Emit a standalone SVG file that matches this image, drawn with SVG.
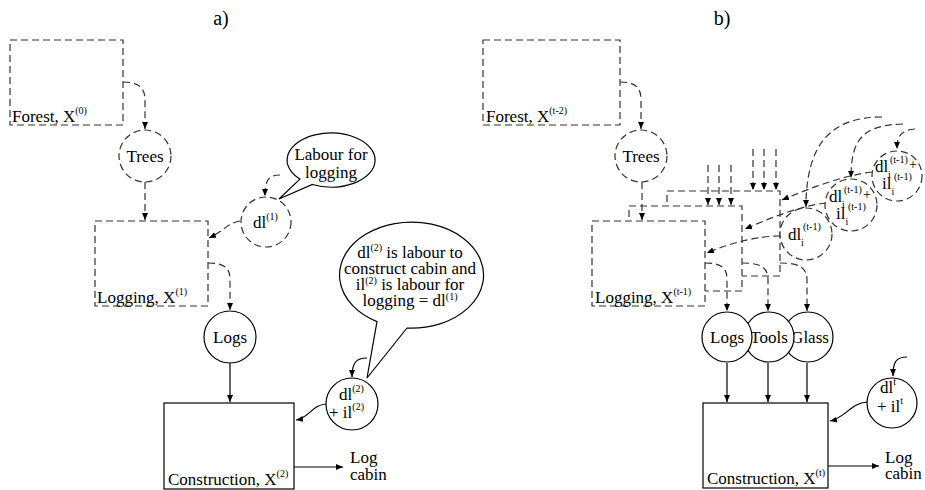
<svg xmlns="http://www.w3.org/2000/svg" width="925" height="490" viewBox="0 0 925 490">
<defs>
<marker id="ah" markerWidth="8" markerHeight="7" refX="7" refY="3" orient="auto" markerUnits="userSpaceOnUse">
<path d="M0,0 L7,3 L0,6 Z" fill="#000"/>
</marker>
<style>
.d{fill:#fff;stroke:#333;stroke-width:1.2;stroke-dasharray:7 4}
.s{fill:#fff;stroke:#000;stroke-width:1.2}
.cd{fill:none;stroke:#333;stroke-width:1.2;stroke-dasharray:7 4;marker-end:url(#ah)}
.cs{fill:none;stroke:#000;stroke-width:1.2;marker-end:url(#ah)}
text{font-family:"Liberation Serif",serif;font-size:17px;fill:#000}
.m{text-anchor:middle}
.t{font-size:20px}
.sp{font-size:10px}
</style>
</defs>
<rect width="925" height="490" fill="#fff"/>
<text class="t m" x="221" y="25">a)</text>
<text class="t m" x="722" y="25">b)</text>

<g id="forest-a">
<rect class="d" x="10" y="40" width="113" height="85"/>
<text x="12" y="122">Forest, X<tspan class="sp" dy="-8">(0)</tspan></text>
</g>
<g id="trees-a">
<circle class="d" cx="145" cy="156" r="26"/>
<text class="m" x="145" y="162">Trees</text>
</g>
<g id="logging-a">
<rect class="d" x="95" y="221" width="113" height="85"/>
<text x="97" y="303">Logging, X<tspan class="sp" dy="-8">(1)</tspan></text>
</g>
<g id="dl1">
<circle class="d" cx="266" cy="222" r="25"/>
<text x="253" y="228">dl<tspan class="sp" dy="-8">(1)</tspan></text>
</g>
<g id="bubble-labour">
<path d="M299.9,179.1 L279,199 L312.4,184.5 A44 27 0 1 0 299.9,179.1 Z" fill="#fff" stroke="#000" stroke-width="1.2"/>
<text class="m" x="331" y="160">Labour for</text>
<text class="m" x="331" y="178">logging</text>
</g>
<g id="logs-a">
<circle class="s" cx="230" cy="337" r="26"/>
<text class="m" x="230" y="343">Logs</text>
</g>
<g id="bubble-dl2">
<path d="M377,321.6 L367,378 L407,328 A72 53 0 1 0 377,321.6 Z" fill="#fff" stroke="#000" stroke-width="1.2"/>
<text class="m" x="410" y="258">dl<tspan class="sp" dy="-7">(2)</tspan><tspan dy="7"> is labour to</tspan></text>
<text class="m" x="410" y="274">construct cabin and</text>
<text class="m" x="410" y="290">il<tspan class="sp" dy="-6">(2)</tspan><tspan dy="6"> is labour for</tspan></text>
<text class="m" x="410" y="306">logging = dl<tspan class="sp" dy="-6">(1)</tspan></text>
</g>
<g id="dl2">
<circle class="s" cx="352" cy="404" r="26"/>
<text x="339" y="400">dl<tspan class="sp" dy="-8">(2)</tspan></text>
<text x="329" y="418">+ il<tspan class="sp" dy="-8">(2)</tspan></text>
</g>
<g id="construction-a">
<rect class="s" x="164" y="403" width="130" height="86"/>
<text x="168" y="485">Construction, X<tspan class="sp" dy="-8">(2)</tspan></text>
</g>
<g id="logcabin-a">
<text x="350" y="463">Log</text>
<text x="350" y="480">cabin</text>
</g>

<g id="forest-b">
<rect class="d" x="483" y="40" width="137" height="85"/>
<text x="486" y="122">Forest, X<tspan class="sp" dy="-8">(t-2)</tspan></text>
</g>
<g id="trees-b">
<circle class="d" cx="641" cy="156" r="26"/>
<text class="m" x="641" y="162">Trees</text>
</g>
<g id="box3-b">
<rect class="d" x="667" y="191" width="113" height="85"/>
</g>
<g id="box2-b">
<rect class="d" x="629" y="206" width="113" height="85"/>
</g>
<g id="logging-b">
<rect class="d" x="592" y="221" width="113" height="85"/>
<text x="595" y="303">Logging, X<tspan class="sp" dy="-8">(t-1)</tspan></text>
</g>
<g id="glass-b">
<circle class="s" cx="808" cy="337" r="25"/>
<text class="m" x="810" y="343">Glass</text>
</g>
<g id="tools-b">
<circle class="s" cx="769" cy="337" r="25"/>
<text class="m" x="769" y="343">Tools</text>
</g>
<g id="logs-b">
<circle class="s" cx="727" cy="337" r="25"/>
<text class="m" x="727" y="343">Logs</text>
</g>
<g id="dli-1">
<circle class="d" cx="806" cy="234" r="26"/>
<text x="788" y="240">dl<tspan class="sp" x="801" y="246">i</tspan><tspan class="sp" x="803" y="230">(t-1)</tspan></text>
</g>
<g id="dli-2">
<circle class="d" cx="851" cy="205" r="26"/>
<text x="829" y="202">dl<tspan class="sp" x="842" y="208">i</tspan><tspan class="sp" x="844" y="193">(t-1)</tspan><tspan x="863" y="199" font-size="14">+</tspan></text>
<text x="836" y="219">il<tspan class="sp" x="845.5" y="225">i</tspan><tspan class="sp" x="848" y="210">(t-1)</tspan></text>
</g>
<g id="dli-3">
<circle class="d" cx="897" cy="176" r="25"/>
<text x="875" y="172">dl<tspan class="sp" x="888" y="178">i</tspan><tspan class="sp" x="890" y="163">(t-1)</tspan><tspan x="909" y="169" font-size="14">+</tspan></text>
<text x="882" y="189">il<tspan class="sp" x="891.5" y="195">i</tspan><tspan class="sp" x="894" y="180">(t-1)</tspan></text>
</g>
<g id="dlt">
<circle class="s" cx="892" cy="403" r="25"/>
<text x="880" y="393">dl<tspan class="sp" dy="-8">t</tspan></text>
<text x="877" y="412">+ il<tspan class="sp" dy="-8">t</tspan></text>
</g>
<g id="construction-b">
<rect class="s" x="703" y="403" width="125" height="85"/>
<text x="707" y="484">Construction, X<tspan class="sp" dy="-8">(t)</tspan></text>
</g>
<g id="logcabin-b">
<text x="885" y="463">Log</text>
<text x="885" y="479">cabin</text>
</g>

<g id="connectors">
<path class="cd" d="M123,82 C139,82 145,88 145,100 L145,129"/>
<path class="cd" d="M145,182 L145,220"/>
<path class="cd" d="M240,221 C228,223 222,232 209,238"/>
<path class="cd" d="M280,175 C268,175 265,181 265,196"/>
<path class="cd" d="M208,263 C225,263 230,268 230,280 L230,310"/>
<path class="cs" d="M230,363 L230,402"/>
<path class="cs" d="M326,404 C312,405 309,418 296,420"/>
<path class="cs" d="M367,358 C356,358 352,363 352,377"/>
<path class="cs" d="M294,467 L343,467"/>
<path class="cd" d="M620,82 C636,82 641,88 641,100 L641,129"/>
<path class="cd" d="M642,182 L642,220"/>
<path class="cd" d="M708,165 L708,205"/>
<path class="cd" d="M719,165 L719,205"/>
<path class="cd" d="M731,165 L731,205"/>
<path class="cd" d="M753,149 L753,190"/>
<path class="cd" d="M764,149 L764,190"/>
<path class="cd" d="M776,149 L776,190"/>
<path class="cd" d="M705,263 C722,263 727,268 727,280 L727,311"/>
<path class="cd" d="M742,263 C762,263 768,268 768,280 L768,311"/>
<path class="cd" d="M780,263 C800,263 807,268 807,280 L807,311"/>
<path class="cd" d="M780,236 C760,236 732,242 707,253"/>
<path class="cd" d="M826,203 C800,206 770,218 745,229"/>
<path class="cd" d="M872,172 C845,175 810,188 782,200"/>
<path class="cd" d="M882,117 C830,117 806,145 806,207"/>
<path class="cd" d="M903,124 C862,125 851,140 851,178"/>
<path class="cd" d="M915,129 C901,130 897,136 897,149"/>
<path class="cs" d="M727,363 L727,402"/>
<path class="cs" d="M768,363 L768,402"/>
<path class="cs" d="M807,363 L807,402"/>
<path class="cs" d="M867,402 C851,403 845,418 830,421"/>
<path class="cs" d="M907,357 C896,357 893,362 893,376"/>
<path class="cs" d="M828,466 L879,466"/>
</g>
</svg>
